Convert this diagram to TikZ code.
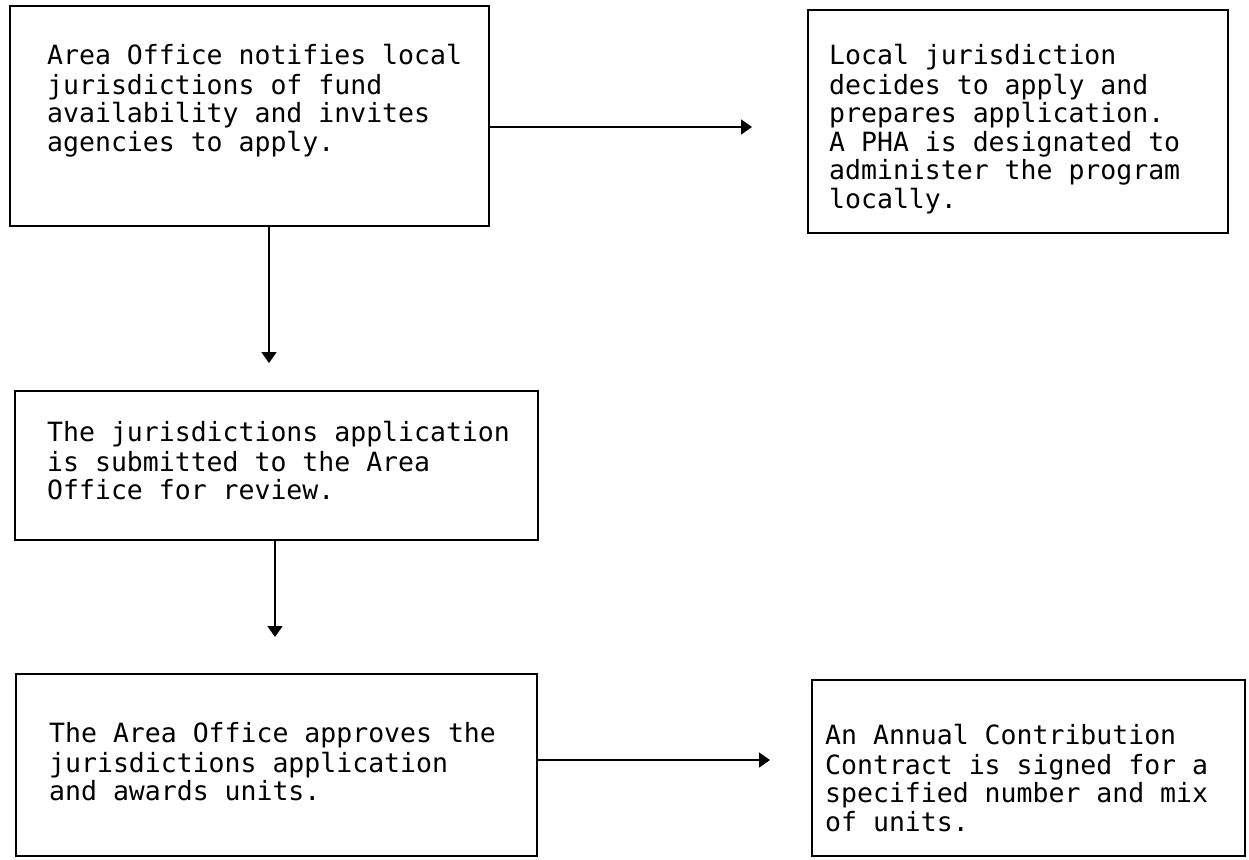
\documentclass[tikz,border=0pt]{standalone}
\usepackage{fontspec}
\newfontfamily\tw{DejaVu Sans Mono}
\usetikzlibrary{arrows.meta}
\begin{document}
\begin{tikzpicture}[x=1pt,y=-1pt,
  boxnode/.style={draw=black, line width=1.3pt, rectangle, inner sep=0pt, outer sep=0pt, anchor=north west},
  txt/.style={anchor=north west, inner sep=0pt, align=left, font={\fontsize{26.5}{28.5}\selectfont\tw}},
  conn/.style={draw=black, line width=1.8pt, -{Triangle[length=11pt,width=15pt]}},
]
\fill[white] (0,0) rectangle (1249,859);
\useasboundingbox (0,0) rectangle (1249,859);

\node[boxnode, minimum width=479pt, minimum height=220pt] (b1) at (10,6) {};
\node[boxnode, minimum width=420pt, minimum height=223pt] (b2) at (808,10) {};
\node[boxnode, minimum width=523pt, minimum height=149pt] (b3) at (15,391) {};
\node[boxnode, minimum width=521pt, minimum height=182pt] (b4) at (16,674) {};
\node[boxnode, minimum width=433pt, minimum height=176pt] (b5) at (812,680) {};

\node[txt] (t1) at ([shift={(37,38)}]b1.north west) {\strut Area Office notifies local\\jurisdictions of fund\\availability and invites\\agencies to apply.};
\node[txt] (t2) at ([shift={(21,34)}]b2.north west) {\strut Local jurisdiction\\decides to apply and\\prepares application.\\A PHA is designated to\\administer the program\\locally.};
\node[txt] (t3) at ([shift={(32,30)}]b3.north west) {\strut The jurisdictions application\\is submitted to the Area\\Office for review.};
\node[txt] (t4) at ([shift={(33,48)}]b4.north west) {\strut The Area Office approves the\\jurisdictions application\\and awards units.};
\node[txt] (t5) at ([shift={(13,44)}]b5.north west) {\strut An Annual Contribution\\Contract is signed for a\\specified number and mix\\of units.};

\coordinate (ya) at (0,127);
\coordinate (xa) at (269,0);
\coordinate (xb) at (275,0);
\coordinate (yb) at (0,760);

\draw[conn, shorten >=56pt] (b1.east |- ya) -- (b2.west |- ya);
\draw[conn, shorten >=28pt] (b1.south -| xa) -- (b3.north -| xa);
\draw[conn, shorten >=37pt] (b3.south -| xb) -- (b4.north -| xb);
\draw[conn, shorten >=42pt] (b4.east |- yb) -- (b5.west |- yb);
\end{tikzpicture}
\end{document}
